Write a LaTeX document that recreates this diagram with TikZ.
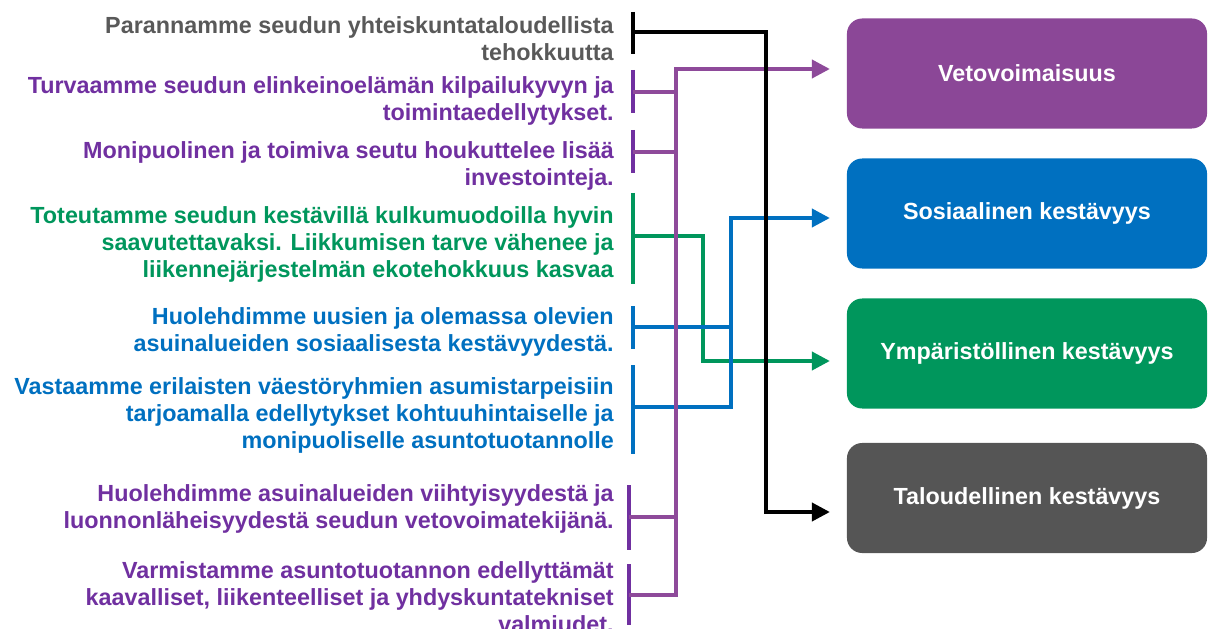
\documentclass[tikz,border=0pt]{standalone}
\usepackage{fontspec}
\setmainfont{Liberation Sans}
\usetikzlibrary{arrows.meta,positioning}
\definecolor{goalGray}{HTML}{595959}
\definecolor{goalPurple}{HTML}{7030A0}
\definecolor{linePurple}{HTML}{8E4A9A}
\definecolor{boxPurple}{HTML}{8B4797}
\definecolor{goalBlue}{HTML}{0070C0}
\definecolor{goalGreen}{HTML}{00965C}
\definecolor{boxGray}{HTML}{555555}

\begin{document}
\begin{tikzpicture}[x=0.025cm, y=-0.025cm, every node/.style={font=\bfseries},
    goal/.style={anchor=east, align=right, inner sep=0pt, font=\fontsize{16.6pt}{19.2pt}\selectfont\bfseries},
    theme/.style={rounded corners=0.38cm, minimum width=9cm, minimum height=2.75cm, inner sep=0pt, text=white, font=\fontsize{16.6pt}{19.2pt}\selectfont\bfseries},
    link/.style={line width=2.8pt},
    tip/.style={-{Triangle[length=0.45cm,width=0.45cm]}, shorten >=0.42cm}]
    \useasboundingbox (0,0) rectangle (1208,629);

    % targets
    \node[theme, fill=boxPurple] (veto) at (1027,73.5) {Vetovoimaisuus};
    \node[theme, fill=goalBlue] (sosiaal) at (1027,213.5) {Sosiaalinen kestävyys};
    \node[theme, fill=goalGreen] (ymparisto) at (1027,353.5) {Ympäristöllinen kestävyys};
    \node[theme, fill=boxGray] (talous) at (1027,498) {Taloudellinen kestävyys};

    % goals
    \node[goal, text=goalGray] (g1) at (614,38.5) {Parannamme seudun yhteiskuntataloudellista\\tehokkuutta};
    \node[goal, text=goalPurple] (g2) at (614,101) {Turvaamme seudun elinkeinoelämän kilpailukyvyn ja\\toimintaedellytykset.};
    \node[goal, text=goalPurple] (g3) at (614,166) {Monipuolinen ja toimiva seutu houkuttelee lisää\\investointeja.};
    \node[goal, text=goalGreen] (g4) at (614,244) {Toteutamme seudun kestävillä kulkumuodoilla hyvin\\saavutettavaksi. Liikkumisen tarve vähenee ja\\liikennejärjestelmän ekotehokkuus kasvaa};
    \node[goal, text=goalBlue] (g5) at (614,332) {Huolehdimme uusien ja olemassa olevien\\asuinalueiden sosiaalisesta kestävyydestä.};
    \node[goal, text=goalBlue] (g6) at (614,415) {Vastaamme erilaisten väestöryhmien asumistarpeisiin\\tarjoamalla edellytykset kohtuuhintaiselle ja\\monipuoliselle asuntotuotannolle};
    \node[goal, text=goalPurple] (g7) at (614,509) {Huolehdimme asuinalueiden viihtyisyydestä ja\\luonnonläheisyydestä seudun vetovoimatekijänä.};
    \node[goal, text=goalPurple] (g8) at (614,597) {Varmistamme asuntotuotannon edellyttämät\\kaavalliset, liikenteelliset ja yhdyskuntatekniset\\valmiudet.};

    % green
    \draw[link, goalGreen] (633,193) -- (633,284);
    \draw[link, goalGreen, tip] (633,236) -| (703,361) -- (ymparisto.west |- 703,361);
    % blue
    \draw[link, goalBlue] (633,306) -- (633,349);
    \draw[link, goalBlue] (633,365) -- (633,454);
    \draw[link, goalBlue] (633,327) -- (731,327);
    \draw[link, goalBlue, tip] (633,407) -| (731,218) -- (sosiaal.west |- 731,218);
    % purple
    \draw[link, goalPurple] (633,70) -- (633,113);
    \draw[link, goalPurple] (633,130) -- (633,173);
    \draw[link, goalPurple] (629,485) -- (629,550);
    \draw[link, goalPurple] (629,564) -- (629,625);
    \draw[link, linePurple] (633,92) -- (676,92);
    \draw[link, linePurple] (633,152) -- (676,152);
    \draw[link, linePurple] (629,517) -- (676,517);
    \draw[link, linePurple, tip] (629,595) -| (676,69) -- (veto.west |- 676,69);
    % black
    \draw[link, black] (633,12) -- (633,54);
    \draw[link, black, tip] (633,32) -| (766,512) -- (talous.west |- 766,512);
\end{tikzpicture}
\end{document}
